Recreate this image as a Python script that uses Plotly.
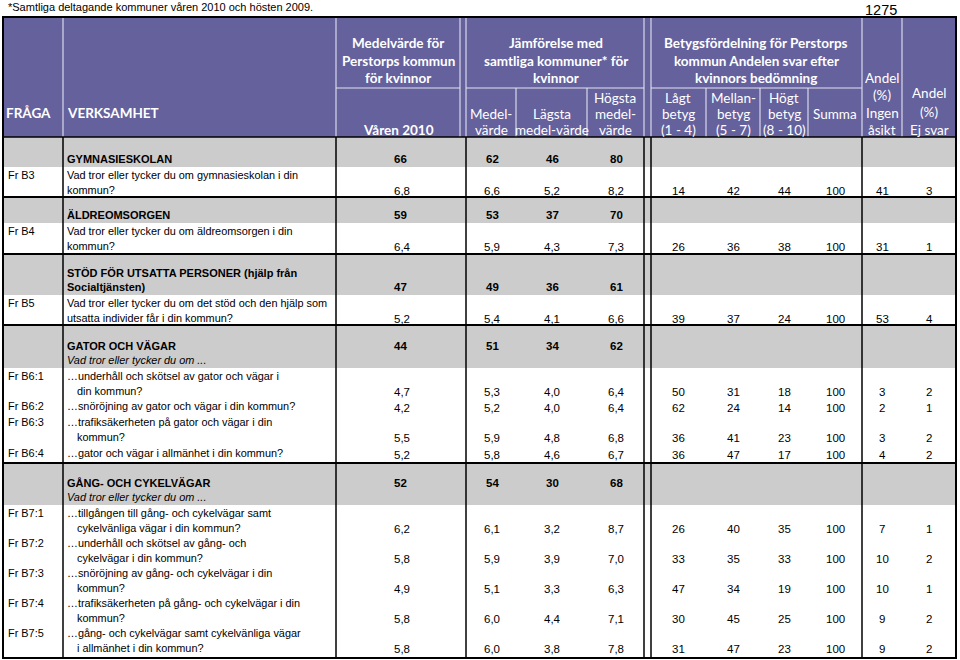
import plotly.graph_objects as go

# ---- data -------------------------------------------------------------
sektioner = ["GYMNASIESKOLAN", "ÄLDREOMSORGEN",
             "STÖD FÖR UTSATTA PERSONER (hjälp från<br>Socialtjänsten)",
             "GATOR OCH VÄGAR", "GÅNG- OCH CYKELVÄGAR"]
sektion_underrubrik = ["", "", "", "Vad tror eller tycker du om ...", "Vad tror eller tycker du om ..."]
sektion_index = [66, 59, 47, 44, 52]
sektion_medel = [62, 53, 49, 51, 54]
sektion_lagsta = [46, 37, 36, 34, 30]
sektion_hogsta = [80, 70, 61, 62, 68]

fragor = ["Fr B3", "Fr B4", "Fr B5", "Fr B6:1", "Fr B6:2", "Fr B6:3", "Fr B6:4",
          "Fr B7:1", "Fr B7:2", "Fr B7:3", "Fr B7:4", "Fr B7:5"]
fraga_sektion = [0, 1, 2, 3, 3, 3, 3, 4, 4, 4, 4, 4]
fragetext = [
    "Vad tror eller tycker du om gymnasieskolan i din<br>kommun?",
    "Vad tror eller tycker du om äldreomsorgen i din<br>kommun?",
    "Vad tror eller tycker du om det stöd och den hjälp som<br>utsatta individer får i din kommun?",
    "…underhåll och skötsel av gator och vägar i<br>  din kommun?",
    "…snöröjning av gator och vägar i din kommun?",
    "…trafiksäkerheten på gator och vägar i din<br>  kommun?",
    "…gator och vägar i allmänhet i din kommun?",
    "…tillgången till gång- och cykelvägar samt<br>  cykelvänliga vägar i din kommun?",
    "…underhåll och skötsel av gång- och<br>  cykelvägar i din kommun?",
    "…snöröjning av gång- och cykelvägar i din<br>  kommun?",
    "…trafiksäkerheten på gång- och cykelvägar i din<br>  kommun?",
    "…gång- och cykelvägar samt cykelvänliga vägar<br>  i allmänhet i din kommun?",
]
medelvarde = [6.8, 6.4, 5.2, 4.7, 4.2, 5.5, 5.2, 6.2, 5.8, 4.9, 5.8, 5.8]
jmf_medel = [6.6, 5.9, 5.4, 5.3, 5.2, 5.9, 5.8, 6.1, 5.9, 5.1, 6.0, 6.0]
jmf_lagsta = [5.2, 4.3, 4.1, 4.0, 4.0, 4.8, 4.6, 3.2, 3.9, 3.3, 4.4, 3.8]
jmf_hogsta = [8.2, 7.3, 6.6, 6.4, 6.4, 6.8, 6.7, 8.7, 7.0, 6.3, 7.1, 7.8]
lagt_betyg = [14, 26, 39, 50, 62, 36, 36, 26, 33, 47, 30, 31]
mellanbetyg = [42, 36, 37, 31, 24, 41, 47, 40, 35, 34, 45, 47]
hogt_betyg = [44, 38, 24, 18, 14, 23, 17, 35, 33, 19, 25, 23]
summa = [100] * 12
ingen_asikt = [41, 31, 53, 3, 2, 3, 4, 7, 10, 10, 9, 9]
ej_svar = [3, 1, 4, 2, 1, 2, 2, 1, 2, 1, 2, 2]

# ---- layout geometry ----------------------------------------------------
PURPLE = "#64619D"
GRAY = "#CCCCCC"
HEAD_FONT = "Lato"
BODY_FONT = "Liberation Sans"
X_L, X_R = 3, 956
Y_HEAD_TOP, Y_HEAD_BOT, Y_MID = 17, 137, 88
band_h = [30, 26, 41, 43, 42]
row_h = [30, 31, 30, 30, 16, 31, 18, 30, 30, 30, 30, 33]
LINE = 14.5
FS = 10.9     # body text size
FS_NUM = 11.5

# column centres for the numbers
cx_medelv = 400
cx_jmf = [492, 552, 616]
cx_betyg = [678, 733, 784, 835]
cx_andel = [882, 929]

fig = go.Figure()
shapes = []
ann = []


def text(x, y, s, size=FS, bold=False, italic=False, color="black", align="left", font=BODY_FONT):
    if bold:
        s = "<b>" + s + "</b>"
    if italic:
        s = "<i>" + s + "</i>"
    ann.append(dict(x=x, y=y, text=s, showarrow=False, xanchor=align, yanchor="middle",
                    font=dict(family=font, size=size, color=color)))


def line(x0, y0, x1, y1, color="black", width=1.5):
    shapes.append(dict(type="line", x0=x0, y0=y0, x1=x1, y1=y1, line=dict(color=color, width=width)))


def fmt(v):
    return f"{v:.1f}".replace(".", ",")


# header block
shapes.append(dict(type="rect", x0=X_L, y0=Y_HEAD_TOP, x1=X_R, y1=Y_HEAD_BOT, fillcolor=PURPLE,
                   line=dict(width=0), layer="below"))
WL = "#E4E4F0"
for xv in [63, 336, 460, 466, 644, 651, 862, 902]:
    line(xv, Y_HEAD_TOP, xv, Y_HEAD_BOT, WL, 1.1)
for xv in [516, 587, 706, 760, 808]:
    line(xv, Y_MID, xv, Y_HEAD_BOT, WL, 1.1)
for x0, x1 in [(336, 460), (466, 644), (651, 862)]:
    line(x0, Y_MID, x1, Y_MID, WL, 1.1)

H = dict(size=13.5, color="white", font=HEAD_FONT)
text(4, 113, "FRÅGA", bold=True, **H)
text(65, 113, "VERKSAMHET", bold=True, **H)
for cx, rows in [(398, ["Medelvärde för", "Perstorps kommun", "för kvinnor"]),
                 (556, ["Jämförelse med", "samtliga kommuner* för", "kvinnor"]),
                 (756, ["Betygsfördelning för Perstorps", "kommun Andelen svar efter", "kvinnors bedömning"])]:
    for i, r in enumerate(rows):
        text(cx, 43 + 17.5 * i, r, bold=True, align="center", **H)
text(398, 130, "Våren 2010", bold=True, align="center", **H)

sub = [(491, [None, "Medel-", "värde"]), (552, [None, "Lägsta", "medel-värde"]),
       (615, ["Högsta", "medel-", "värde"]), (678, ["Lågt", "betyg", "(1 - 4)"]),
       (733, ["Mellan-", "betyg", "(5 - 7)"]), (784, ["Högt", "betyg", "(8 - 10)"]),
       (835, [None, "Summa", None])]
for cx, rows in sub:
    for i, r in enumerate(rows):
        if r:
            text(cx, 98 + 16 * i, r, align="center", **H)
for i, r in enumerate(["Andel", "(%)", "Ingen", "åsikt"]):
    text(882, 78 + 17.3 * i, r, align="center", **H)
for i, r in enumerate(["Andel", "(%)", "Ej svar"]):
    text(929, 93 + 18.5 * i, r, align="center", **H)

# footnote and count
text(6, 7, "*Samtliga deltagande kommuner våren 2010 och hösten 2009.", size=11)
text(881, 10, "1275", size=14.5, align="center")

# body
y = Y_HEAD_BOT
q = 0
for s, namn in enumerate(sektioner):
    top = y
    bot = top + band_h[s]
    shapes.append(dict(type="rect", x0=X_L, y0=top, x1=X_R, y1=bot, fillcolor=GRAY,
                       line=dict(width=0), layer="below"))
    namn_rader = namn.split("<br>")
    last = bot - 8
    if sektion_underrubrik[s]:
        text(65, last, sektion_underrubrik[s], italic=True)
        last -= LINE
    for i, r in enumerate(reversed(namn_rader)):
        text(65, last - LINE * i, r, bold=True, size=11)
    text(cx_medelv, last, str(sektion_index[s]), bold=True, align="center", size=FS_NUM)
    for cx, v in zip(cx_jmf, [sektion_medel[s], sektion_lagsta[s], sektion_hogsta[s]]):
        text(cx, last, str(v), bold=True, align="center", size=FS_NUM)
    y = bot
    while q < len(fragor) and fraga_sektion[q] == s:
        y0 = y + 8
        text(6, y0, fragor[q])
        rader = fragetext[q].split("<br>")
        for i, r in enumerate(rader):
            if r.startswith("  "):
                text(75, y0 + LINE * i, r.strip())
            else:
                text(65, y0 + LINE * i, r)
        yv = y0 + LINE * (len(rader) - 1) + 1.5
        text(cx_medelv + 2, yv, fmt(medelvarde[q]), align="center", size=FS_NUM)
        for cx, v in zip(cx_jmf, [jmf_medel[q], jmf_lagsta[q], jmf_hogsta[q]]):
            text(cx, yv, fmt(v), align="center", size=FS_NUM)
        for cx, v in zip(cx_betyg, [lagt_betyg[q], mellanbetyg[q], hogt_betyg[q], summa[q]]):
            text(cx, yv, str(v), align="center", size=FS_NUM)
        for cx, v in zip(cx_andel, [ingen_asikt[q], ej_svar[q]]):
            text(cx, yv, str(v), align="center", size=FS_NUM)
        y += row_h[q]
        q += 1
    line(X_L, y, X_R, y, width=1.8)

y_end = y
for xv in [X_L, 63, 336, 466, 644, 651, 862, X_R]:
    line(xv, Y_HEAD_BOT, xv, y_end, width=1.5)
line(X_L, Y_HEAD_BOT, X_R, Y_HEAD_BOT, width=1.5)
# outer border
shapes.append(dict(type="rect", x0=X_L, y0=Y_HEAD_TOP, x1=X_R, y1=y_end, line=dict(color="black", width=2)))

fig.update_layout(
    width=960, height=660,
    margin=dict(l=0, r=0, t=0, b=0),
    paper_bgcolor="white", plot_bgcolor="white",
    xaxis=dict(range=[0, 960], visible=False, fixedrange=True),
    yaxis=dict(range=[660, 0], visible=False, fixedrange=True),
    shapes=shapes, annotations=ann, showlegend=False,
)
fig.write_html("out.html", config={"displayModeBar": False},
               post_script="document.body.style.margin='0';document.body.style.overflow='hidden';")
